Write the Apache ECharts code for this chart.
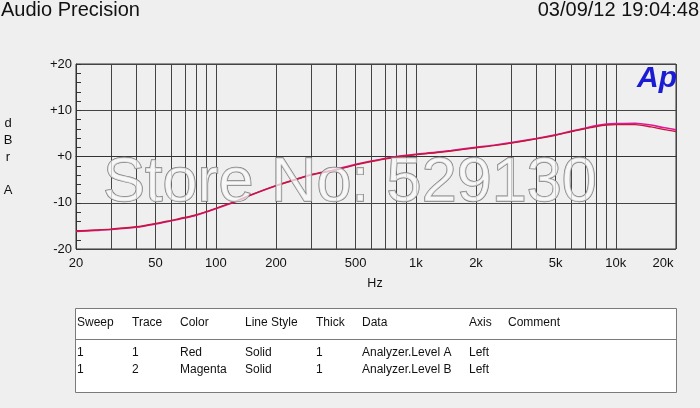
<!DOCTYPE html>
<html><head><meta charset="utf-8">
<script src="https://cdn.jsdelivr.net/npm/echarts@6/dist/echarts.min.js"></script>
<style>html,body{margin:0;padding:0;background:#efefef}#c{width:700px;height:408px}</style>
</head><body><div id="c"></div>
<script>
// ---- data ----
const freqs = [20,25,30,40,50,60,70,80,100,125,150,200,250,300,400,500,650,800,1000,1250,1500,2000,2500,3000,4000,5000,6000,7000,8000,9000,10000,12500,15000,17500,20000];
const levelA = [-16.1,-15.9,-15.7,-15.2,-14.5,-13.8,-13.2,-12.6,-11.2,-9.7,-8.3,-6.3,-5.0,-4.0,-2.9,-1.8,-0.8,-0.1,0.4,0.8,1.2,1.9,2.4,2.9,3.8,4.6,5.4,6.0,6.5,6.8,6.9,6.9,6.4,5.8,5.4];
const levelB = [-16.2,-16.0,-15.8,-15.3,-14.6,-13.9,-13.3,-12.7,-11.3,-9.8,-8.3,-6.3,-5.0,-3.9,-2.8,-1.7,-0.7,0.0,0.5,0.9,1.3,2.0,2.5,3.0,3.9,4.7,5.5,6.1,6.7,7.0,7.1,7.2,6.8,6.2,5.8];
const gridFreqs = [20,30,40,50,60,70,80,90,100,200,300,400,500,600,700,800,900,1000,2000,3000,4000,5000,6000,7000,8000,9000,10000,20000];
const labelFreqs = [20,50,100,200,500,1000,2000,5000,10000,20000];
const yMin = -20, yMax = 20, yStep = 10;
const titleText = 'Audio Precision';
const dateText = '03/09/12 19:04:48';
const yNameLetters = ['d','B','r','','A'];
const xName = 'Hz';
const watermark = 'Store No: 529130';
const tableHeader = ['Sweep','Trace','Color','Line Style','Thick','Data','Axis','Comment'];
const tableRow1 = ['1','1','Red','Solid','1','Analyzer.Level A','Left',''];
const tableRow2 = ['1','2','Magenta','Solid','1','Analyzer.Level B','Left',''];

// ---- layout ----
const FONT = 'Liberation Sans, Arial, sans-serif';
const colX = [77,132,180,245,316,362,469,508];
const graphics = [];
function txt(x, y, text, size, opts) {
  opts = opts || {};
  graphics.push({type:'text', x:x, y:y, z:opts.z||10, style:{text:text, font:(opts.style||'normal')+' '+size+'px '+FONT,
    fill:opts.fill||'#111', align:opts.align||'left', verticalAlign:'middle',
    stroke:opts.stroke, lineWidth:opts.lineWidth||0}});
}
txt(1, 10.5, titleText, 20);
txt(699, 10.5, dateText, 20, {align:'right'});
const yLetterY = [123,140,157,173,190];
yNameLetters.forEach((l,i)=>{ if(l) txt(8, yLetterY[i], l, 13, {align:'center'}); });
txt(375, 284, xName, 12.5, {align:'center'});
txt(637, 79, 'Ap', 30, {style:'italic bold', fill:'#1b1bd4'});
txt(103, 183.5, watermark, 63, {fill:'rgba(250,250,250,0.72)', stroke:'#7c7c7c', lineWidth:1.4, z:50});
// table
graphics.push({type:'rect', shape:{x:75.5,y:308.5,width:601,height:84}, style:{fill:'#ffffff', stroke:'#7a7a7a', lineWidth:1}, z:5});
graphics.push({type:'line', shape:{x1:75.5,y1:339.5,x2:676.5,y2:339.5}, style:{stroke:'#7a7a7a', lineWidth:1}, z:6});
tableHeader.forEach((t,i)=>txt(colX[i], 323, t, 12));
tableRow1.forEach((t,i)=>{ if(t) txt(colX[i], 353, t, 12); });
tableRow2.forEach((t,i)=>{ if(t) txt(colX[i], 370, t, 12); });

const chart = echarts.init(document.getElementById('c'), null, {renderer:'canvas'});
chart.setOption({
  backgroundColor:'#efefef',
  animation:false,
  grid:{left:76, right:24, top:64, bottom:159, show:true, borderColor:'#333', borderWidth:1, backgroundColor:'transparent'},
  xAxis:{type:'log', logBase:10, min:20, max:20000,
    axisLine:{show:true, lineStyle:{color:'#333', width:1}},
    axisTick:{show:false, customValues:gridFreqs},
    splitLine:{show:true, lineStyle:{color:'#444', width:1}},
    minorTick:{show:false}, minorSplitLine:{show:false},
    axisLabel:{customValues:labelFreqs, color:'#111', fontSize:13, fontFamily:FONT, margin:8,
      formatter:function(v){ const s = v>=1000 ? (v/1000)+'k' : String(v); return v>=20000 ? '{r|'+s+'}' : s; },
      rich:{r:{padding:[0,26,0,0], fontSize:13, fontFamily:FONT, color:'#111'}}}
  },
  yAxis:{type:'value', min:yMin, max:yMax, interval:yStep,
    axisLine:{show:true, lineStyle:{color:'#333', width:1}},
    axisTick:{show:true, inside:true, length:5, lineStyle:{color:'#333'}},
    minorTick:{show:true, splitNumber:5, length:5, lineStyle:{color:'#333'}},
    splitLine:{show:true, lineStyle:{color:'#444', width:1}},
    axisLabel:{color:'#111', fontSize:13, fontFamily:FONT, margin:4,
      formatter:function(v){ return v>=0 ? '+'+v : String(v); }}
  },
  series:[
    {name:'Analyzer.Level B', type:'line', showSymbol:false, smooth:0.3, z:2,
      data:freqs.map((f,i)=>[f, levelB[i]]), lineStyle:{color:'#e0199a', width:1.6}},
    {name:'Analyzer.Level A', type:'line', showSymbol:false, smooth:0.3, z:3,
      data:freqs.map((f,i)=>[f, levelA[i]]), lineStyle:{color:'#c4173a', width:1.4}}
  ],
  graphic:graphics
});
</script></body></html>
